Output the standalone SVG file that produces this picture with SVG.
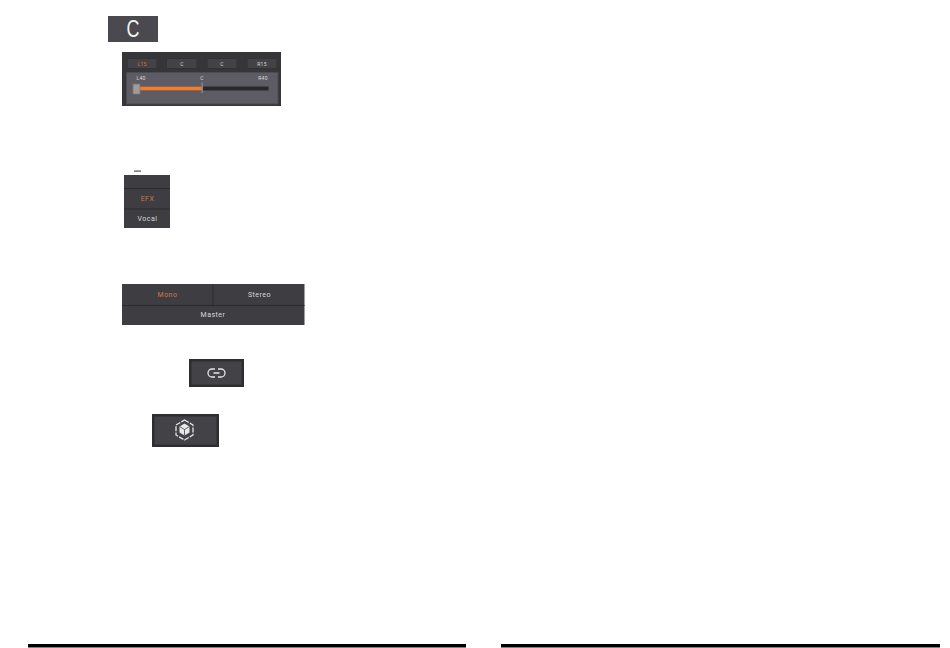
<svg xmlns="http://www.w3.org/2000/svg" width="950" height="648" viewBox="0 0 950 648">
<style>
text{font-family:"Roboto","Liberation Sans",Arial,sans-serif;text-anchor:middle;fill:#d8d8d8}
.o{fill:#d0764a}
.s{font-size:5px;letter-spacing:.2px}
.m{font-size:7px;font-weight:400;letter-spacing:.5px}
.btn{fill:#434247;stroke:#333235;stroke-width:1}
.ln{stroke:#2a2a2c;stroke-width:1;fill:none}
.ic{fill:none;stroke:#e6e6e6;stroke-width:1.3}
</style>
<rect width="950" height="648" fill="#fff"/>
<g id="c-label"><rect x="108" y="16" width="50" height="26" fill="#4a4950"/><text x="133" y="37.500" font-size="23" style="fill:#f2f2f2;font-family:'Liberation Sans',sans-serif" transform="translate(133 0) scale(.78 1) translate(-133 0)">C</text></g>
<g id="pan-panel">
<rect x="122" y="52" width="159" height="54" fill="#363538"/>
<g class="btn"><rect x="127" y="58.500" width="30" height="10"/><rect x="166.500" y="58.500" width="30.500" height="10"/><rect x="207" y="58.500" width="30" height="10"/><rect x="247" y="58.500" width="30" height="10"/></g>
<text x="142" y="65.500" class="s o">L15</text><text x="182" y="65.500" class="s">C</text><text x="222" y="65.500" class="s">C</text><text x="262" y="65.500" class="s">R15</text>
<rect x="126.500" y="72.500" width="151.500" height="31.500" fill="#5d5c64" stroke="#4c4b51"/>
<text x="141" y="79.500" class="s">L40</text><text x="202" y="79.500" class="s">C</text><text x="263" y="79.500" class="s">R40</text>
<rect x="138" y="86.500" width="130.500" height="4" fill="#29282b"/>
<rect x="138" y="86.500" width="64" height="4" fill="#ee7d35"/>
<rect x="201.500" y="82.500" width="1.500" height="10.500" fill="#85848a"/>
<rect x="133" y="84" width="7" height="10" fill="#a29c98" stroke="#77767b" stroke-width="0.800"/>
</g>
<g id="efx-list">
<rect x="134" y="170.500" width="7" height="1.200" fill="#55555a"/>
<rect x="124" y="175" width="46" height="53" fill="#3e3d42"/>
<path class="ln" d="M124 188.500H170M124 209H170"/>
<text x="147.500" y="201" class="m o">EFX</text><text x="147.500" y="221" class="m">Vocal</text>
</g>
<g id="bus-panel">
<rect x="122" y="284" width="182.500" height="41" fill="#3e3d42"/>
<path class="ln" d="M122 305.500H304.500M213 284V305"/>
<text x="167.500" y="297" class="m o">Mono</text><text x="259.500" y="297" class="m">Stereo</text><text x="213" y="317" class="m">Master</text>
</g>
<g id="link-button">
<rect x="189" y="359" width="55" height="28" fill="#2e2d30"/><rect x="191.500" y="361.500" width="50" height="23" fill="#434247"/>
<path class="ic" d="M215 369h-3a4 4 0 0 0 0 8h3M218 369h3a4 4 0 0 1 0 8h-3M213.500 373h6"/>
</g>
<g id="cube-button">
<rect x="152" y="414" width="67" height="33" fill="#2e2d30"/><rect x="154.500" y="416.500" width="62" height="28" fill="#434247"/>
<path class="ic" d="M184.500 420l8.500 5v10l-8.500 5-8.500-5v-10z" stroke-width="1.100" stroke-dasharray="5 1.200"/>
<path d="M184.500 423.500l5 3v6l-5 3-5-3v-6z" fill="#e8e8e8"/>
<path d="M179.500 426.500l5 3 5-3M184.500 429.500v6" fill="none" stroke="#434247" stroke-width="0.800"/>
</g>
<g id="rules"><rect x="28" y="644" width="438" height="3.500" fill="#000"/><rect x="501" y="644" width="439" height="3.500" fill="#000"/></g>
</svg>
